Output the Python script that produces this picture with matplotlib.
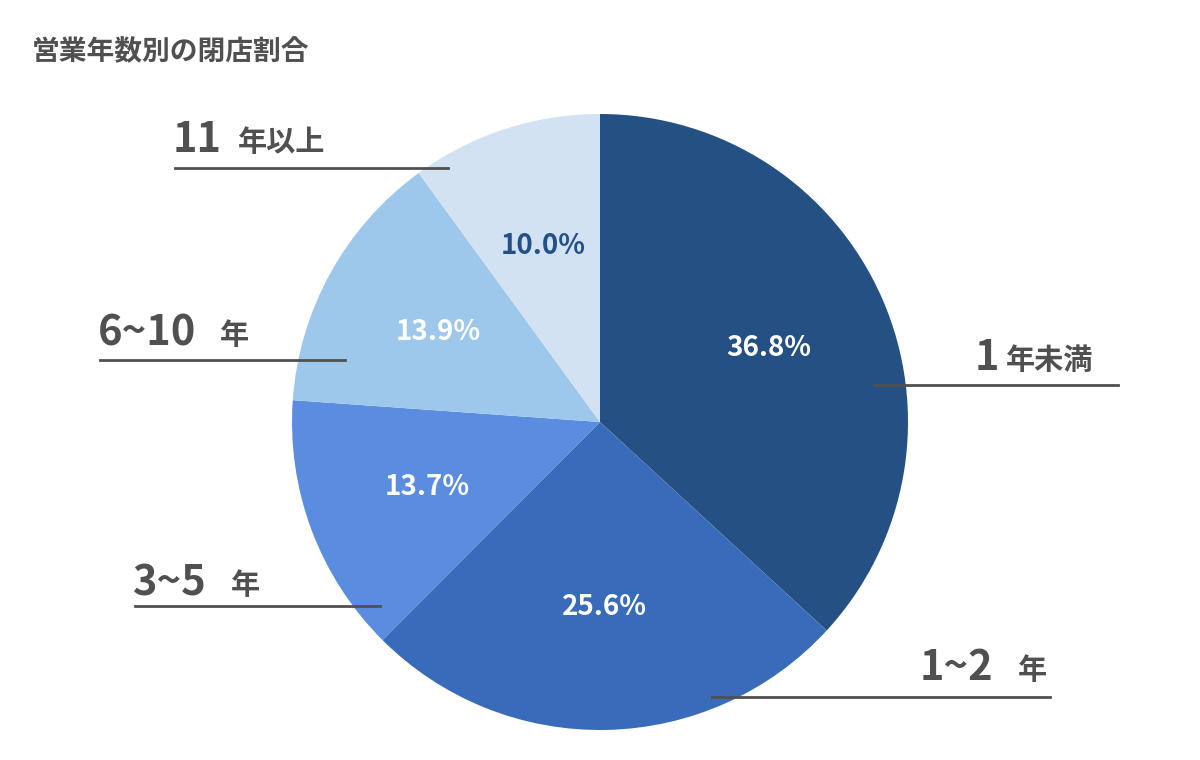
import matplotlib.pyplot as plt

plt.rcParams['font.family'] = ['Noto Sans CJK JP', 'DejaVu Sans']

categories = ['1年未満', '1~2年', '3~5年', '6~10年', '11年以上']
shares = [37.5, 26.1, 13.9, 14.1, 10.2]
colors = ['#245083', '#386BBA', '#5A8DE0', '#9DC8EC', '#D3E2F3']
pct_colors = ['white', 'white', 'white', 'white', '#24508A']

W, H = 1200, 760
fig = plt.figure(figsize=(12, 7.6), dpi=100)
ax = fig.add_axes([0, 0, 1, 1])
ax.set_xlim(0, W)
ax.set_ylim(0, H)
ax.axis('off')

wedges, texts, autotexts = ax.pie(
    shares, colors=colors, startangle=90, counterclock=False,
    center=(600, H - 422), radius=308, autopct='%.1f%%', pctdistance=0.6,
    frame=True)
ax.set_xlim(0, W)
ax.set_ylim(0, H)
ax.axis('off')
for t, c in zip(autotexts, pct_colors):
    t.set_color(c)
    t.set_fontsize(20)
    t.set_fontweight('bold')

grey = '#505050'
fig.text(32 / W, 1 - 52 / H, '営業年数別の閉店割合', fontsize=20, fontweight='bold',
         color=grey, va='center')

# (number part, x, suffix, x, text y, line x0, line x1, line y)
labels = [
    ('1', 975, '年未満', 1006, 358, 875, 1118, 385),
    ('1~2', 920, '年', 1018, 668, 712, 1050, 697),
    ('3~5', 133, '年', 231, 583, 135, 380, 606),
    ('6~10', 98, '年', 220, 333, 100, 345, 360),
    ('11', 173, '年以上', 238, 140, 175, 448, 168),
]
for num, nx, suf, sx, ty, x0, x1, ly in labels:
    ax.text(nx, H - ty, num, fontsize=30, fontweight='bold', color=grey,
            va='center', ha='left')
    ax.text(sx, H - ty - 2, suf, fontsize=21, fontweight='bold', color=grey,
            va='center', ha='left')
    ax.plot([x0, x1], [H - ly, H - ly], color=grey, lw=2)

fig.savefig('out.png', dpi=100)
